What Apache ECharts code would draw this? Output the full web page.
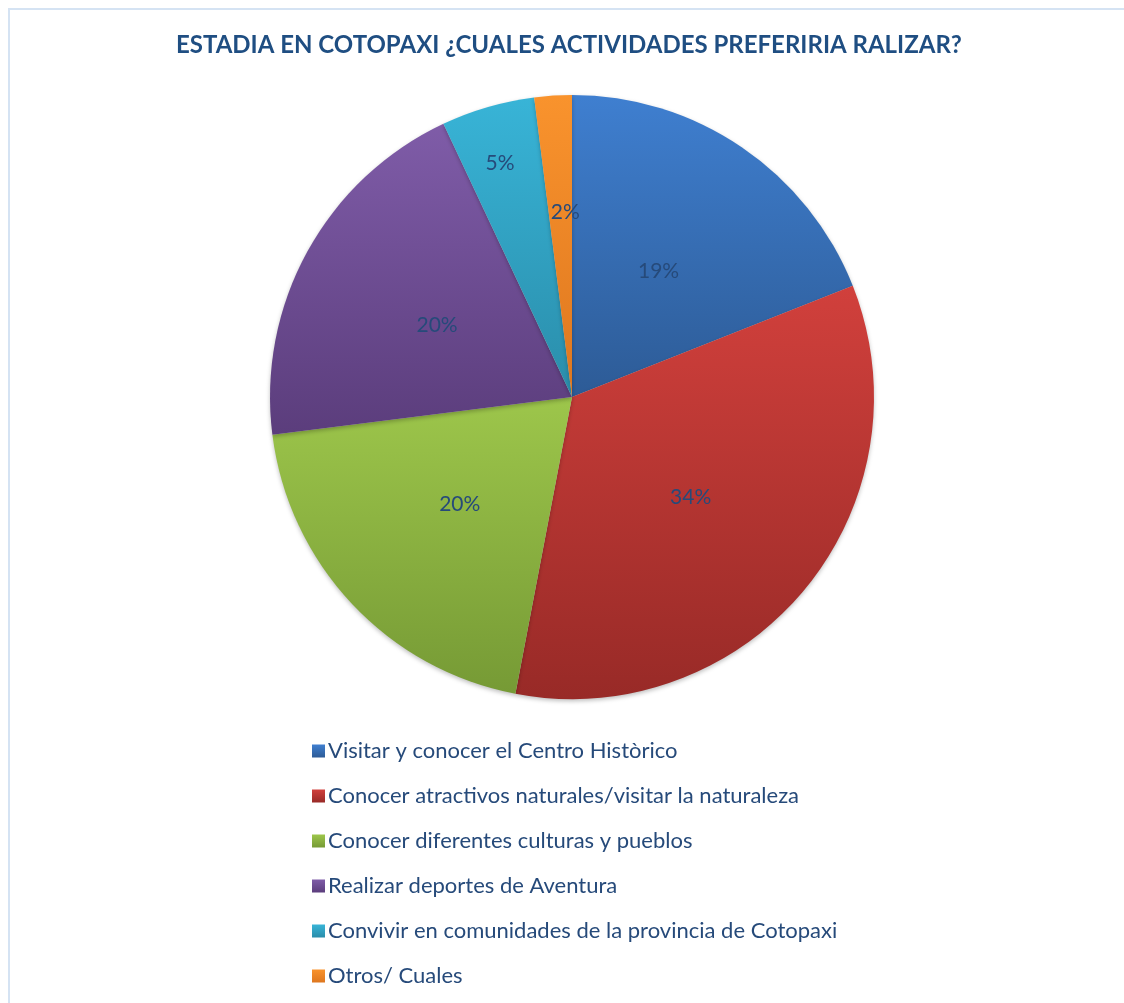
<!DOCTYPE html>
<html>
<head>
<meta charset="utf-8">
<script src="https://cdn.jsdelivr.net/npm/echarts@6/dist/echarts.min.js"></script>
<style>
  html, body { margin: 0; padding: 0; background: #fff; }
  #chart { width: 1124px; height: 1003px; }
</style>
</head>
<body>
<div id="chart"></div>
<script>
// datos del gráfico
var categorias = [
  'Visitar y conocer el Centro Històrico',
  'Conocer atractivos naturales/visitar la naturaleza',
  'Conocer diferentes culturas y pueblos',
  'Realizar deportes de Aventura',
  'Convivir en comunidades de la provincia de Cotopaxi',
  'Otros/ Cuales'
];
var porcentajes = [19, 34, 20, 20, 5, 2];

// colores degradados (arriba, abajo)
var coloresArriba = ['#3f7fd0', '#d1403c', '#9dc64b', '#7f5ca8', '#38b4d7', '#f9932d'];
var coloresAbajo = ['#2d5b96', '#982a27', '#769a35', '#5b3d7c', '#2a8daa', '#de771f'];
// desplazamiento de etiquetas pequeñas
var desplazamientos = [null, null, null, null, [-29, -86], [3, -31]];

var chart = echarts.init(document.getElementById('chart'));

var datos = categorias.map(function (nombre, i) {
  var item = {
    name: nombre,
    value: porcentajes[i],
    itemStyle: {
      color: new echarts.graphic.LinearGradient(0, 0, 0, 1, [
        { offset: 0, color: coloresArriba[i] },
        { offset: 1, color: coloresAbajo[i] }
      ])
    }
  };
  if (desplazamientos[i]) {
    item.label = { offset: desplazamientos[i] };
  }
  return item;
});

chart.setOption({
  backgroundColor: '#ffffff',
  animation: false,
  title: {
    text: 'ESTADIA EN COTOPAXI ¿CUALES ACTIVIDADES PREFERIRIA RALIZAR?',
    left: 176,
    top: 33,
    padding: 0,
    textStyle: {
      fontFamily: 'Lato',
      fontWeight: 'bold',
      fontSize: 24,
      color: '#1f4e82'
    }
  },
  legend: {
    orient: 'vertical',
    left: 312,
    top: 740,
    padding: 0,
    itemWidth: 13,
    itemHeight: 13,
    itemGap: 23,
    icon: 'rect',
    textStyle: {
      fontFamily: 'Lato',
      fontSize: 22,
      lineHeight: 22,
      color: '#264a7a',
      padding: [0, 0, 0, -2]
    }
  },
  graphic: [
    {
      type: 'polyline',
      shape: { points: [[9, 1003], [9, 9], [1124, 9]] },
      style: { stroke: '#d5e3f3', lineWidth: 2, fill: null }
    }
  ],
  series: [
    {
      type: 'pie',
      center: [572, 397],
      radius: 302,
      startAngle: 90,
      clockwise: true,
      silent: true,
      label: {
        show: true,
        position: 'inside',
        formatter: '{d}%',
        fontFamily: 'Lato',
        fontSize: 21,
        color: '#264a7a',
        offset: [0, 2]
      },
      labelLine: { show: false },
      itemStyle: {
        borderWidth: 0,
        shadowColor: 'rgba(0,0,0,0.25)',
        shadowBlur: 4,
        shadowOffsetY: 2
      },
      data: datos
    }
  ]
});
</script>
</body>
</html>
